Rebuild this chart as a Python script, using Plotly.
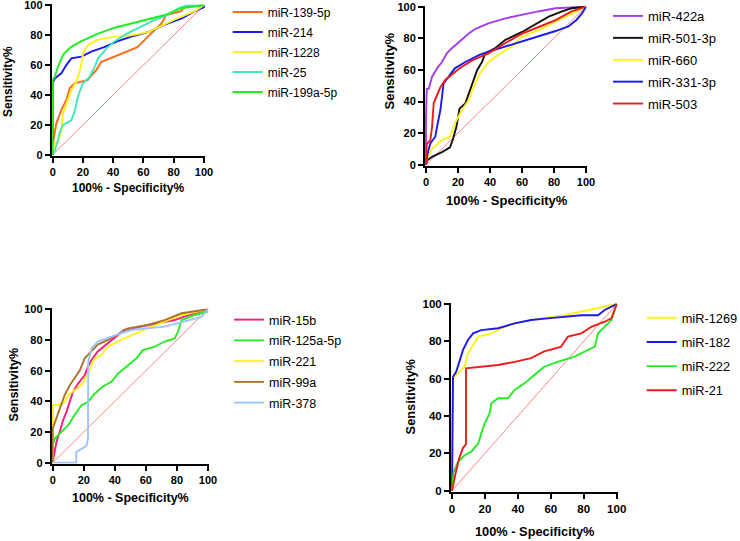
import plotly.graph_objects as go

W, H = 740, 541
FONT = "Arial, Liberation Sans, sans-serif"

# ---------------- Panel 1 data ----------------
p1_names = ["miR-139-5p", "miR-214", "miR-1228", "miR-25", "miR-199a-5p"]
p1_colors = ["#FF6A1A", "#1A1AF0", "#FFF21A", "#40E8B8", "#22EE22"]
p1_x = [
    [0, 0.5, 2.4, 5.7, 9, 11.2, 14.5, 19, 23.3, 25.5, 28.9, 32, 38, 44, 50, 56, 61, 65, 72, 75, 85, 87, 100],
    [0, 0, 1.3, 5.7, 9, 12.3, 19, 25.5, 34, 43, 52, 63, 74, 85, 94, 100, 100],
    [0, 1, 3.5, 5.7, 6.8, 9, 12.3, 15.6, 17.8, 19, 20, 23.3, 30, 41, 52, 63, 74, 85, 94, 100],
    [0, 1.5, 3.5, 4.6, 6.8, 12.3, 14.5, 16.7, 20, 24.4, 27.8, 30, 35.5, 41, 50, 58.5, 67, 76, 83, 89, 100],
    [0, 0, 1.3, 3.5, 6.9, 12, 19, 30, 41, 52, 63, 74, 85, 100],
]
p1_y = [
    [0, 10, 21, 30, 36.6, 44.4, 47.8, 49, 50, 53, 56.7, 62, 64.5, 66.7, 69, 72, 77, 81, 88, 93.5, 96, 99, 100],
    [0, 48, 51, 54.5, 60, 64.5, 65.6, 69, 72, 76, 79, 82, 87, 91, 96, 98.7, 100],
    [0, 7.6, 8.7, 15.4, 27.7, 34, 43, 49, 55.6, 61, 68, 73.4, 77, 79, 80, 82, 87, 92.5, 96, 100],
    [0, 3, 10, 15, 20, 23, 29, 39, 48, 52, 59, 64.5, 71, 76, 81.5, 86, 90, 93.5, 98, 100, 100],
    [0, 50, 52, 59, 67, 72, 76, 81, 85, 88, 90.5, 93.5, 98, 100],
]

# ---------------- Panel 2 data ----------------
p2_names = ["miR-422a", "miR-501-3p", "miR-660", "miR-331-3p", "miR-503"]
p2_colors = ["#A43CE8", "#111111", "#FFF21A", "#1A1AF0", "#F01A1A"]
p2_x = [
    [0, 0, 0.5, 1.7, 3.8, 6.9, 10, 13, 16, 21, 26.7, 31, 39, 49.6, 60, 70, 81, 100],
    [0, 1, 3.8, 10, 15, 17, 19, 21, 24.6, 28.8, 32, 35, 37, 43, 49.6, 60, 68, 76.7, 85, 91, 100],
    [0, 1, 3.8, 10, 15, 18, 22.5, 26.7, 29.8, 33, 39, 45, 53.3, 60, 70, 81, 91, 100],
    [0, 1, 2.7, 5.8, 6.9, 9, 11, 14, 18, 24.6, 33, 39, 49.6, 60, 70, 81, 89, 94, 97.5, 100],
    [0, 0.5, 2.7, 3.8, 4.8, 6.9, 9, 12, 16, 21, 28.8, 39, 49.6, 60, 70, 81, 91, 100],
]
p2_y = [
    [0, 30, 48, 48, 55.7, 61, 65, 70.5, 73.6, 78, 83, 86, 89.5, 92.6, 95, 97, 99, 100],
    [0, 3, 5, 8, 11, 16.7, 24, 35.6, 38.8, 50.4, 60, 65, 70.5, 73.6, 79, 84, 88.4, 93.7, 97, 99, 100],
    [0, 5, 10, 15.6, 17.7, 26, 34.6, 41, 49, 56.7, 65, 69.4, 74.7, 81, 85, 90.5, 95.8, 100],
    [0, 7, 13.5, 17.7, 24, 34.6, 51.5, 55.7, 61, 65, 69.4, 71.5, 74.7, 78, 81, 84.6, 87.5, 91.6, 95.8, 100],
    [0, 13, 15.6, 24, 39, 44, 49, 53.6, 57, 61, 66, 70.5, 77, 83, 87, 91.5, 97, 100],
]

# ---------------- Panel 3 data ----------------
p3_names = ["miR-15b", "miR-125a-5p", "miR-221", "miR-99a", "miR-378"]
p3_colors = ["#FF1A7A", "#22EE22", "#FFF21A", "#A8742E", "#9CC4FF"]
p3_x = [
    [0, 1, 2.4, 4.5, 6.7, 8.8, 11, 13, 16.3, 20.6, 22.7, 25, 29, 34.5, 40, 46, 57, 68, 78.5, 87, 100],
    [0, 0, 0, 1.3, 5.6, 10, 14, 18.5, 22.7, 27, 32, 37.8, 42, 47.4, 53.9, 58, 65.7, 72, 78.5, 80.7, 83, 91.4, 100],
    [0, 0, 0.2, 3.4, 7.7, 10, 14, 18.5, 21.7, 24, 27, 31.3, 35.6, 44, 53, 61, 72, 83, 100],
    [0, 0, 1.3, 4.5, 7.7, 11, 14, 17.4, 20.6, 25, 29, 35.6, 42, 48.5, 61, 72, 83, 93.6, 100],
    [0, 15.2, 15.2, 18.5, 21.7, 22.7, 22.9, 25, 29, 40, 50.6, 61, 72, 80.7, 89, 95.7, 100],
]
p3_y = [
    [0, 6, 13.5, 20, 27.7, 33, 39.6, 46, 51.6, 57, 62.5, 67, 72.5, 77, 82, 86.5, 88.7, 91, 93, 96, 100],
    [0, 8, 11, 15.7, 20, 24.4, 31, 37.5, 39.6, 45, 49.5, 52.7, 58, 62.5, 68, 73.4, 75.6, 79, 81, 85.4, 93, 96.3, 98.5],
    [0, 15, 37.5, 37.5, 39.6, 44, 47.3, 50.5, 56, 61.4, 68, 70, 75.6, 80, 84.3, 87.6, 92, 96.3, 100],
    [0, 22, 26, 35, 44, 50.5, 55, 60, 68, 72.5, 77, 80, 84, 87.6, 89.8, 93, 97.4, 99, 100],
    [0, 0, 7, 9, 11, 15.7, 66, 74.5, 79, 83, 86.5, 87.6, 88.7, 91, 93, 95, 100],
]

# ---------------- Panel 4 data ----------------
p4_names = ["miR-1269", "miR-182", "miR-222", "miR-21"]
p4_colors = ["#FFF21A", "#1A1AF0", "#22EE22", "#F01A1A"]
p4_x = [
    [0, 0.3, 0.5, 3.6, 7.7, 9.7, 12.8, 16, 24, 32, 38, 54, 68, 82.6, 100],
    [0, 0.3, 0.6, 2.6, 4.6, 6.7, 9.7, 12.8, 17.8, 28, 38, 48, 58, 68, 78.5, 88.7, 92.7, 96.8, 100],
    [0, 1, 3.6, 7.7, 11.7, 16, 17.8, 19.8, 22.8, 23.9, 28, 34, 38, 44, 50, 56, 64, 74.5, 82.6, 86.6, 88.7, 92.7, 96.8, 100],
    [0, 1, 2.6, 4.6, 6.7, 7.7, 8.5, 8.5, 17.8, 28, 38, 48, 56, 66, 70.4, 78.5, 84.6, 92.7, 96.8, 98.8, 100],
]
p4_y = [
    [0, 30, 60.2, 62.9, 66.4, 73.6, 78, 82.5, 84.3, 87.8, 89.6, 92.3, 94, 96.8, 100],
    [0, 55, 61, 63.8, 70, 75.4, 80.7, 84.3, 86, 87, 89.6, 91.4, 92.3, 93.2, 94, 94, 96.8, 98.6, 100],
    [0, 10, 15.5, 19, 20.9, 25.4, 30.7, 36, 41.4, 46.8, 49.5, 49.5, 54, 57.5, 62, 66.4, 69, 71.8, 75.4, 77, 84.3, 87.8, 91.4, 100],
    [0, 5, 11, 18, 23, 24, 25, 65.5, 66.4, 67.3, 69, 71, 74.6, 77, 82.5, 84.3, 87.8, 90.5, 92.3, 96.8, 100],
]

diag_x = [0, 100]
diag_y = [0, 100]
tick_vals = [0, 20, 40, 60, 80, 100]
tick_text = ["0", "20", "40", "60", "80", "100"]

# panel geometry (pixels): x0px, x100px, y100px(top), y0px(bottom)
panels = [
    dict(px=(52.7, 204.0), py=(5.3, 154.7), names=p1_names, colors=p1_colors, xs=p1_x, ys=p1_y,
         fs=12, tfs=11, leg=(227.7, -2.5), gap=1,
         xt=(128.3, 188.0), yt=(7.5, 81.5)),
    dict(px=(426.0, 586.0), py=(6.7, 164.7), names=p2_names, colors=p2_colors, xs=p2_x, ys=p2_y,
         fs=13, tfs=11, leg=(608.0, 1.0), gap=2,
         xt=(506.7, 200.0), yt=(388.5, 71.0)),
    dict(px=(52.7, 208.0), py=(309.3, 462.7), names=p3_names, colors=p3_colors, xs=p3_x, ys=p3_y,
         fs=12.5, tfs=11, leg=(229.0, 305.0), gap=1.5,
         xt=(130.2, 497.7), yt=(13.5, 385.0)),
    dict(px=(452.0, 616.7), py=(304.0, 490.7), names=p4_names, colors=p4_colors, xs=p4_x, ys=p4_y,
         fs=12.8, tfs=11.5, leg=(641.7, 303.0), gap=4.5,
         xt=(535.2, 531.7), yt=(410.7, 396.7)),
]

fig = go.Figure()
layout = dict(width=W, height=H, margin=dict(l=0, r=0, t=0, b=0, autoexpand=False),
              paper_bgcolor="white", plot_bgcolor="white", showlegend=True,
              font=dict(family=FONT, color="black"))
annotations = []
PAD = 0.6  # data-unit padding so edge lines are visible

for i, p in enumerate(panels, start=1):
    sfx = "" if i == 1 else str(i)
    xa, ya = "x" + sfx, "y" + sfx
    legname = "legend" + sfx
    fig.add_trace(go.Scatter(x=diag_x, y=diag_y, mode="lines", showlegend=False,
                             line=dict(color="#FF6464", width=0.8),
                             xaxis=xa, yaxis=ya, hoverinfo="skip"))
    for k, (nm, col, xv, yv) in enumerate(zip(p["names"], p["colors"], p["xs"], p["ys"])):
        fig.add_trace(go.Scatter(x=xv, y=yv, mode="lines", name=nm,
                                 line=dict(color=col, width=1.9),
                                 xaxis=xa, yaxis=ya, legend=legname,
                                 legendgroup=f"g{i}_{k}"))
    x0, x1 = p["px"]
    yt, yb = p["py"]
    sx = (x1 - x0) / 100.0
    sy = (yb - yt) / 100.0
    dx = [(x0 - PAD * sx) / W, (x1 + PAD * sx) / W]
    dy = [1 - (yb + PAD * sy) / H, 1 - (yt - PAD * sy) / H]
    common = dict(range=[-PAD, 100 + PAD], showgrid=False, zeroline=False,
                  showline=True, linecolor="black", linewidth=2,
                  ticks="outside", ticklen=5, tickwidth=2, tickcolor="black",
                  tickvals=tick_vals, ticktext=tick_text, layer="below traces",
                  tickfont=dict(family=FONT, size=p["tfs"], color="black", weight="bold"),
                  ticklabeloverflow="allow",
                  fixedrange=True, automargin=False)
    layout["xaxis" + sfx] = dict(domain=dx, anchor=ya, **common)
    layout["yaxis" + sfx] = dict(domain=dy, anchor=xa, **common)
    lx, ly = p["leg"]
    layout[legname] = dict(x=lx / W, y=1 - ly / H, xanchor="left", yanchor="top",
                           bgcolor="rgba(0,0,0,0)", borderwidth=0,
                           tracegroupgap=p["gap"],
                           font=dict(family=FONT, size=p["fs"], color="black"))
    annotations.append(dict(text="100% - Specificity%", x=p["xt"][0] / W, y=1 - p["xt"][1] / H,
                            xref="paper", yref="paper", showarrow=False,
                            xanchor="center", yanchor="middle",
                            font=dict(family=FONT, size=p["fs"], color="black", weight="bold")))
    annotations.append(dict(text="Sensitivity%", x=p["yt"][0] / W, y=1 - p["yt"][1] / H,
                            xref="paper", yref="paper", showarrow=False, textangle=-90,
                            xanchor="center", yanchor="middle",
                            font=dict(family=FONT, size=p["fs"], color="black", weight="bold")))

layout["annotations"] = annotations
fig.update_layout(**layout)
fig.write_html("out.html", config={"displayModeBar": False},
               post_script="document.body.style.margin='0px';document.body.style.padding='0px';")
